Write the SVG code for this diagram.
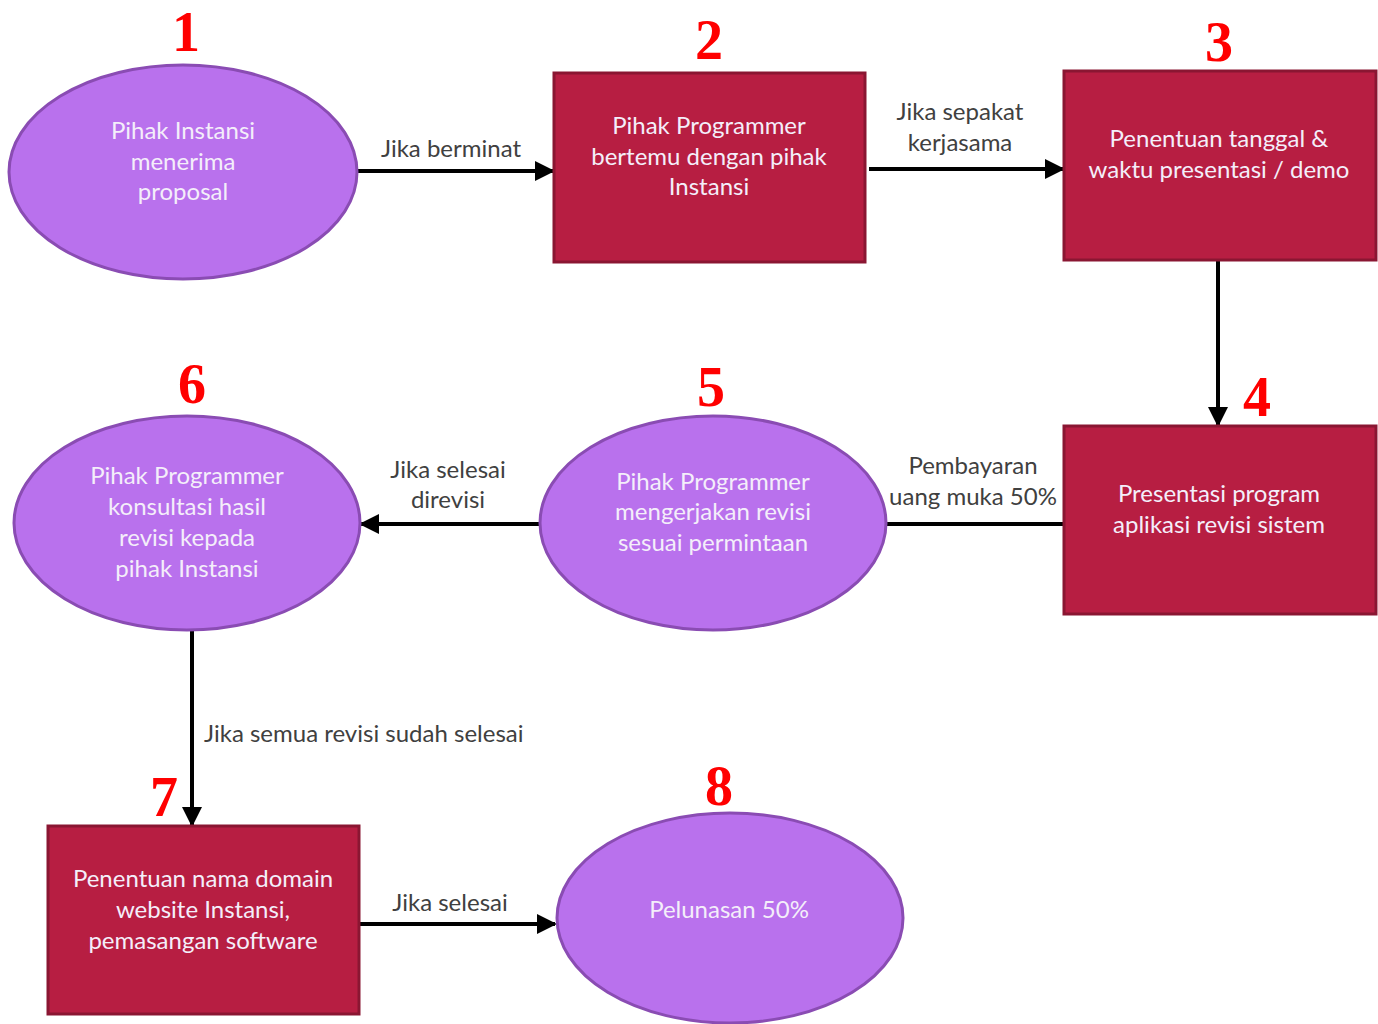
<svg xmlns="http://www.w3.org/2000/svg" width="1378" height="1024" viewBox="0 0 1378 1024">
<style>
.ell{fill:#b971ed;stroke:#8a4cb3;stroke-width:3}
.box{fill:#b71e42;stroke:#8a1632;stroke-width:3}
.nt{font-family:Lato,"Open Sans",sans-serif;font-size:24px;fill:#f4eefa;text-anchor:middle}
.lb{font-family:Lato,"Open Sans",sans-serif;font-size:24px;fill:#404040;text-anchor:middle}
.num{font-family:"Liberation Serif",serif;font-weight:bold;font-size:56px;fill:#ff0000;text-anchor:middle}
.cn{stroke:#000;stroke-width:4;fill:none}
</style>
<defs>
<marker id="ah" markerWidth="5" markerHeight="5" refX="4.5" refY="2.5" orient="auto" markerUnits="strokeWidth">
<path d="M0,0 L5,2.5 L0,5 Z" fill="#000"/>
</marker>
</defs>
<rect width="1378" height="1024" fill="#fff"/>
<g id="connectors">
<line class="cn" x1="357" y1="171" x2="553" y2="171" marker-end="url(#ah)"/>
<line class="cn" x1="869" y1="169" x2="1063" y2="169" marker-end="url(#ah)"/>
<line class="cn" x1="1218" y1="260" x2="1218" y2="425" marker-end="url(#ah)"/>
<line class="cn" x1="1064" y1="524" x2="886" y2="524"/>
<line class="cn" x1="540" y1="524" x2="361" y2="524" marker-end="url(#ah)"/>
<line class="cn" x1="192" y1="630" x2="192" y2="825" marker-end="url(#ah)"/>
<line class="cn" x1="359" y1="924" x2="555" y2="924" marker-end="url(#ah)"/>
<text class="lb" x="451" y="157">Jika berminat</text>
<text class="lb" x="960" y="120">Jika sepakat</text>
<text class="lb" x="960" y="151">kerjasama</text>
<text class="lb" x="973" y="474">Pembayaran</text>
<text class="lb" x="973" y="505">uang muka 50%</text>
<text class="lb" x="448" y="478">Jika selesai</text>
<text class="lb" x="448" y="508">direvisi</text>
<text class="lb" x="204" y="742" text-anchor="start" style="text-anchor:start">Jika semua revisi sudah selesai</text>
<text class="lb" x="450" y="911">Jika selesai</text>
</g>
<g id="node1">
<ellipse class="ell" cx="183" cy="172" rx="174" ry="107"/>
<text class="nt" x="183" y="139">Pihak Instansi</text>
<text class="nt" x="183" y="170">menerima</text>
<text class="nt" x="183" y="200">proposal</text>
<text class="num" x="186" y="51">1</text>
</g>
<g id="node2">
<rect class="box" x="554" y="73" width="311" height="189"/>
<text class="nt" x="709" y="134">Pihak Programmer</text>
<text class="nt" x="709" y="165">bertemu dengan pihak</text>
<text class="nt" x="709" y="195">Instansi</text>
<text class="num" x="709" y="59">2</text>
</g>
<g id="node3">
<rect class="box" x="1064" y="71" width="312" height="189"/>
<text class="nt" x="1219" y="147">Penentuan tanggal &amp;</text>
<text class="nt" x="1219" y="178">waktu presentasi / demo</text>
<text class="num" x="1219" y="61">3</text>
</g>
<g id="node4">
<rect class="box" x="1064" y="426" width="312" height="188"/>
<text class="nt" x="1219" y="502">Presentasi program</text>
<text class="nt" x="1219" y="533">aplikasi revisi sistem</text>
<text class="num" x="1257" y="416">4</text>
</g>
<g id="node5">
<ellipse class="ell" cx="713" cy="523" rx="173" ry="107"/>
<text class="nt" x="713" y="490">Pihak Programmer</text>
<text class="nt" x="713" y="520">mengerjakan revisi</text>
<text class="nt" x="713" y="551">sesuai permintaan</text>
<text class="num" x="711" y="406">5</text>
</g>
<g id="node6">
<ellipse class="ell" cx="187" cy="523" rx="173" ry="107"/>
<text class="nt" x="187" y="484">Pihak Programmer</text>
<text class="nt" x="187" y="515">konsultasi hasil</text>
<text class="nt" x="187" y="546">revisi kepada</text>
<text class="nt" x="187" y="577">pihak Instansi</text>
<text class="num" x="192" y="403">6</text>
</g>
<g id="node7">
<rect class="box" x="48" y="826" width="311" height="188"/>
<text class="nt" x="203" y="887">Penentuan nama domain</text>
<text class="nt" x="203" y="918">website Instansi,</text>
<text class="nt" x="203" y="949">pemasangan software</text>
<text class="num" x="164" y="816">7</text>
</g>
<g id="node8">
<ellipse class="ell" cx="730" cy="918" rx="173" ry="105"/>
<text class="nt" x="729" y="918">Pelunasan 50%</text>
<text class="num" x="719" y="805">8</text>
</g>
</svg>
